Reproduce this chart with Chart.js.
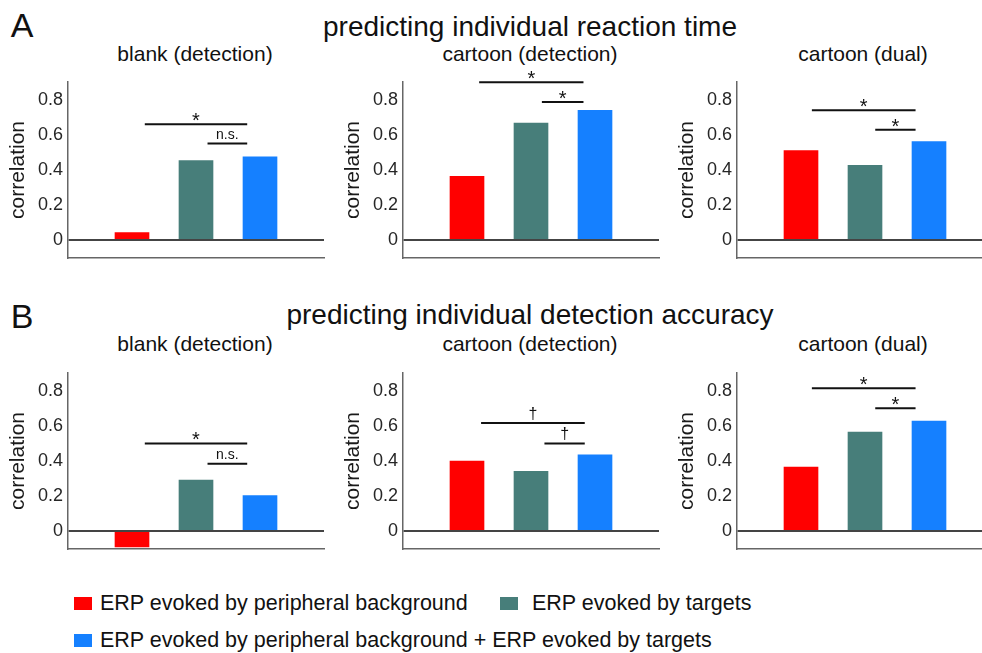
<!DOCTYPE html>
<html>
<head>
<meta charset="utf-8">
<script src="https://cdn.jsdelivr.net/npm/chart.js@4/dist/chart.umd.min.js"></script>
<style>
  body { margin: 0; width: 982px; height: 653px; overflow: hidden; background: #fff; position: relative;
         font-family: "Liberation Sans", Arial, sans-serif; color: #111; }
  .panel { position: absolute; width: 330px; height: 210px; }
  .txt { position: absolute; transform: translate(-50%, -50%); white-space: nowrap; line-height: 1; }
  .letter { font-size: 34px; }
  .title { font-size: 28px; }
  .sub { font-size: 21px; }
  .leg { position: absolute; font-size: 21.5px; line-height: 1; white-space: nowrap; transform: translateY(-50%); }
  .box { position: absolute; width: 18px; height: 13px; }
</style>
</head>
<body>
<div class="txt letter" style="left:22px; top:25px">A</div>
<div class="txt title" style="left:530px; top:27px">predicting individual reaction time</div>
<div class="txt sub" id="subA0" style="left:195px; top:53px"></div>
<div class="txt sub" id="subA1" style="left:530px; top:53px"></div>
<div class="txt sub" id="subA2" style="left:863px; top:53px"></div>

<div class="txt letter" style="left:22px; top:316px">B</div>
<div class="txt title" style="left:530px; top:315px">predicting individual detection accuracy</div>
<div class="txt sub" id="subB0" style="left:195px; top:343px"></div>
<div class="txt sub" id="subB1" style="left:530px; top:343px"></div>
<div class="txt sub" id="subB2" style="left:863px; top:343px"></div>

<canvas class="panel" id="a0" width="330" height="210" style="left:0; top:60px"></canvas>
<canvas class="panel" id="a1" width="330" height="210" style="left:335px; top:60px"></canvas>
<canvas class="panel" id="a2" width="330" height="210" style="left:669px; top:60px"></canvas>
<canvas class="panel" id="b0" width="330" height="210" style="left:0; top:351px"></canvas>
<canvas class="panel" id="b1" width="330" height="210" style="left:335px; top:351px"></canvas>
<canvas class="panel" id="b2" width="330" height="210" style="left:669px; top:351px"></canvas>

<div class="box" id="box0" style="left:74px; top:597px"></div>
<div class="leg" id="leg0" style="left:100px; top:604px"></div>
<div class="box" id="box1" style="left:500px; top:597px"></div>
<div class="leg" id="leg1" style="left:532px; top:604px"></div>
<div class="box" id="box2" style="left:74px; top:634px"></div>
<div class="leg" id="leg2" style="left:100px; top:641px"></div>

<script>
const groups = ["ERP evoked by peripheral background", "ERP evoked by targets",
                "ERP evoked by peripheral background + ERP evoked by targets"];
const barPos = [1, 2, 3];
const conditions = ["blank (detection)", "cartoon (detection)", "cartoon (dual)"];
const yTicks = [0, 0.2, 0.4, 0.6, 0.8];

// correlation per condition: [background, targets, background + targets]
const rtValues = [
  [0.044, 0.453, 0.475],
  [0.364, 0.667, 0.739],
  [0.511, 0.426, 0.562]
];
const accValues = [
  [-0.088, 0.292, 0.203],
  [0.400, 0.342, 0.435],
  [0.365, 0.564, 0.627]
];

// significance bars: from / to (bar position), at (correlation), mark
const rtSig = [
  [{ from: 1.2, to: 2.8, at: 0.66, mark: "*" }, { from: 2.18, to: 2.8, at: 0.55, mark: "n.s." }],
  [{ from: 1.19, to: 2.82, at: 0.898, mark: "*" }, { from: 2.17, to: 2.82, at: 0.786, mark: "*" }],
  [{ from: 1.17, to: 2.79, at: 0.739, mark: "*" }, { from: 2.16, to: 2.79, at: 0.629, mark: "*" }]
];
const accSig = [
  [{ from: 1.2, to: 2.8, at: 0.50, mark: "*" }, { from: 2.18, to: 2.8, at: 0.385, mark: "n.s." }],
  [{ from: 1.22, to: 2.84, at: 0.616, mark: "\u2020" }, { from: 2.21, to: 2.84, at: 0.50, mark: "\u2020" }],
  [{ from: 1.17, to: 2.79, at: 0.813, mark: "*" }, { from: 2.16, to: 2.79, at: 0.70, mark: "*" }]
];

const colors = ["#ff0000", "#477e7a", "#1580ff"];
const fontFamily = '"Liberation Sans", Arial, sans-serif';
const markStyle = {
  "*": { size: 20, dy: 3 },
  "n.s.": { size: 14, dy: -5 },
  "\u2020": { size: 16, dy: -4 }
};

function sigPlugin(items) {
  return {
    id: "sig",
    afterDatasetsDraw(chart) {
      const { ctx, scales: { x, y } } = chart;
      ctx.save();
      items.forEach(b => {
        const x1 = x.getPixelForValue(b.from);
        const x2 = x.getPixelForValue(b.to);
        const yy = y.getPixelForValue(b.at);
        ctx.strokeStyle = "#111";
        ctx.lineWidth = 2;
        ctx.beginPath();
        ctx.moveTo(x1, yy);
        ctx.lineTo(x2, yy);
        ctx.stroke();
        const st = markStyle[b.mark];
        ctx.fillStyle = "#111";
        ctx.font = st.size + "px " + fontFamily;
        ctx.textAlign = "center";
        ctx.textBaseline = "alphabetic";
        ctx.fillText(b.mark, (x1 + x2) / 2, yy + st.dy);
      });
      ctx.restore();
    }
  };
}

function makePanel(id, values, sig) {
  new Chart(document.getElementById(id), {
    type: "bar",
    data: {
      datasets: groups.map((g, i) => ({
        label: g,
        data: [{ x: barPos[i], y: values[i] }],
        backgroundColor: colors[i],
        borderWidth: 0,
        grouped: false,
        barThickness: 34
      }))
    },
    options: {
      responsive: false,
      animation: false,
      layout: { padding: { top: 22, bottom: 12, right: 6, left: 0 } },
      plugins: { legend: { display: false }, tooltip: { enabled: false } },
      scales: {
        x: {
          type: "linear", min: 0, max: 4, offset: false,
          ticks: { display: false, stepSize: 1 },
          grid: { display: false },
          border: { color: "#666", width: 1.5 },
          afterFit(s) { s.height = 0; s.paddingLeft = 0; s.paddingRight = 0; }
        },
        y: {
          min: -0.1, max: 0.9,
          afterBuildTicks(s) { s.ticks = yTicks.map(v => ({ value: v })); },
          afterFit(s) { s.width = 68; s.paddingTop = 0; s.paddingBottom = 0; },
          ticks: { font: { size: 18, family: fontFamily }, color: "#262626", padding: 5, callback: v => String(v) },
          grid: {
            z: 1, drawTicks: false, lineWidth: 2,
            color: c => (c.tick && c.tick.value === 0 ? "#444" : "rgba(0,0,0,0)")
          },
          border: { color: "#666", width: 1.5, z: 1 },
          title: { display: true, text: "correlation", color: "#1a1a1a",
                   font: { size: 21, family: fontFamily }, padding: { top: 6, bottom: 0 } }
        }
      }
    },
    plugins: [sigPlugin(sig)]
  });
}

conditions.forEach((c, i) => {
  document.getElementById("subA" + i).textContent = c;
  document.getElementById("subB" + i).textContent = c;
  makePanel("a" + i, rtValues[i], rtSig[i]);
  makePanel("b" + i, accValues[i], accSig[i]);
});
groups.forEach((g, i) => {
  document.getElementById("leg" + i).textContent = g;
  document.getElementById("box" + i).style.background = colors[i];
});
</script>
</body>
</html>
